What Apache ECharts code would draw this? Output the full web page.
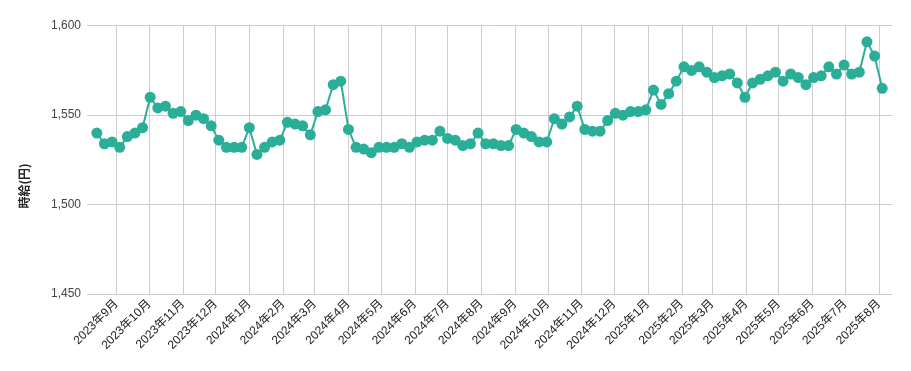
<!DOCTYPE html>
<html>
<head>
<meta charset="utf-8">
<script src="https://cdn.jsdelivr.net/npm/echarts@6/dist/echarts.min.js"></script>
<style>
html,body{margin:0;padding:0;background:#fff;}
#chart{width:911px;height:371px;}
</style>
</head>
<body>
<div id="chart"></div>
<script>
// Weekly observations: first week start and count
const firstWeek = [2023, 7, 14]; // 2023-08-14 (month is 0-based)
const weekCount = 104;
const axisMinDate = [2023, 7, 5];
const axisMaxDate = [2025, 7, 13];

// Hourly wage (円), one per week
const wages = [
  1540, 1534, 1535, 1532, 1538, 1540, 1543, 1560, 1554, 1555,
  1551, 1552, 1547, 1550, 1548, 1544, 1536, 1532, 1532, 1532,
  1543, 1528, 1532, 1535, 1536, 1546, 1545, 1544, 1539, 1552,
  1553, 1567, 1569, 1542, 1532, 1531, 1529, 1532, 1532, 1532,
  1534, 1532, 1535, 1536, 1536, 1541, 1537, 1536, 1533, 1534,
  1540, 1534, 1534, 1533, 1533, 1542, 1540, 1538, 1535, 1535,
  1548, 1545, 1549, 1555, 1542, 1541, 1541, 1547, 1551, 1550,
  1552, 1552, 1553, 1564, 1556, 1562, 1569, 1577, 1575, 1577,
  1574, 1571, 1572, 1573, 1568, 1560, 1568, 1570, 1572, 1574,
  1569, 1573, 1571, 1567, 1571, 1572, 1577, 1573, 1578, 1573,
  1574, 1591, 1583, 1565
];

const yTicks = [1450, 1500, 1550, 1600];
const yAxisTitle = '時給(円)';

const weeks = [];
for (let i = 0; i < weekCount; i++) {
  weeks.push(new Date(firstWeek[0], firstWeek[1], firstWeek[2] + 7 * i).getTime());
}
const seriesData = weeks.map((t, i) => [t, wages[i]]);

const chart = echarts.init(document.getElementById('chart'));
chart.setOption({
  animation: false,
  grid: { left: 87, right: 19, top: 25.7, bottom: 77, containLabel: false },
  xAxis: {
    type: 'time',
    min: new Date(axisMinDate[0], axisMinDate[1], axisMinDate[2]).getTime(),
    max: new Date(axisMaxDate[0], axisMaxDate[1], axisMaxDate[2]).getTime(),
    splitNumber: 24,
    axisLine: { show: false },
    axisTick: { show: false },
    splitLine: {
      show: true,
      showMinLine: false,
      showMaxLine: false,
      lineStyle: { color: '#cccccc', width: 1 }
    },
    axisLabel: {
      rotate: 45,
      formatter: '{yyyy}年{M}月',
      color: '#222222',
      fontSize: 12,
      fontFamily: 'Liberation Sans, Arial, Noto Sans CJK JP, sans-serif',
      margin: 8,
      hideOverlap: false,
      showMinLabel: false,
      showMaxLabel: false
    }
  },
  yAxis: {
    type: 'value',
    min: yTicks[0],
    max: yTicks[yTicks.length - 1],
    interval: 50,
    axisLine: { show: false },
    axisTick: { show: false },
    splitLine: { show: true, lineStyle: { color: '#cccccc', width: 1 } },
    axisLabel: {
      color: '#444444',
      fontSize: 12,
      margin: 6,
      fontFamily: 'Liberation Sans, Arial, sans-serif',
      formatter: v => String(v).replace(/\B(?=(\d{3})+(?!\d))/g, ',')
    }
  },
  graphic: [{
    type: 'text',
    x: 24,
    y: 186,
    rotation: Math.PI / 2,
    style: {
      text: yAxisTitle,
      fill: '#222222',
      font: 'bold 12px "Noto Sans CJK JP", sans-serif',
      textAlign: 'center',
      textVerticalAlign: 'middle'
    }
  }],
  series: [{
    type: 'line',
    data: seriesData,
    symbol: 'circle',
    symbolSize: 11,
    showAllSymbol: true,
    lineStyle: { color: '#2bae98', width: 2 },
    itemStyle: { color: '#2bae98' }
  }]
});
</script>
</body>
</html>
